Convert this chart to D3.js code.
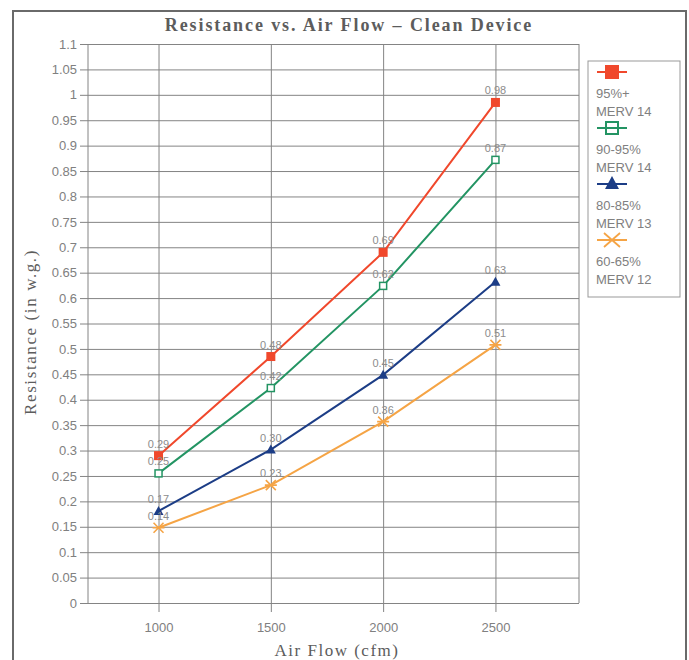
<!DOCTYPE html>
<html>
<head>
<meta charset="utf-8">
<script src="https://cdn.jsdelivr.net/npm/d3@7"></script>
<style>
  body { margin: 0; background: #fff; }
  svg { display: block; }
</style>
</head>
<body>
<svg width="689" height="660"></svg>
<script>
// contenitore svg
const svg = d3.select("svg");
const width = +svg.attr("width");
const height = +svg.attr("height");

// dati
const airFlow = [1000, 1500, 2000, 2500];
const seriesNames = ["95%+", "90-95%", "80-85%", "60-65%"];
const seriesMerv = ["MERV 14", "MERV 14", "MERV 13", "MERV 12"];
const merv14High = [0.29, 0.485, 0.69, 0.985];
const merv14Low = [0.255, 0.423, 0.624, 0.872];
const merv13 = [0.181, 0.302, 0.449, 0.632];
const merv12 = [0.148, 0.232, 0.357, 0.508];
const labels14High = ["0.29", "0.48", "0.69", "0.98"];
const labels14Low = ["0.25", "0.42", "0.62", "0.87"];
const labels13 = ["0.17", "0.30", "0.45", "0.63"];
const labels12 = ["0.14", "0.23", "0.36", "0.51"];
const yTicks = d3.range(0, 23).map(i => +(i * 0.05).toFixed(2));

const seriesValues = [merv14High, merv14Low, merv13, merv12];
const seriesLabels = [labels14High, labels14Low, labels13, labels12];
const colors = ["#f0482c", "#239463", "#1c3d86", "#f5a445"];
const markers = ["square", "openSquare", "triangle", "cross"];

const series = seriesNames.map((name, k) => ({
  name,
  merv: seriesMerv[k],
  color: colors[k],
  marker: markers[k],
  points: airFlow.map((x, i) => ({ x, y: seriesValues[k][i], label: seriesLabels[k][i] }))
}));

// area del grafico
const plot = { left: 88, right: 579, top: 44, bottom: 603 };
const x = d3.scaleLinear().domain([686, 2872]).range([plot.left, plot.right]);
const y = d3.scaleLinear().domain([0, 1.1]).range([plot.bottom, plot.top]);

const gridColor = "#848484";
const textGray = "#808080";

// cornice esterna
svg.append("rect")
  .attr("x", 13).attr("y", 11)
  .attr("width", 673).attr("height", 680)
  .attr("fill", "none")
  .attr("stroke", "#6a6a6a")
  .attr("stroke-width", 2);

// titolo
svg.append("text")
  .attr("x", 349).attr("y", 31)
  .attr("text-anchor", "middle")
  .attr("font-family", "Liberation Serif, serif")
  .attr("font-weight", "bold")
  .attr("font-size", "18px")
  .attr("letter-spacing", "1.9px")
  .attr("fill", "#5c5c5c")
  .text("Resistance vs. Air Flow \u2013 Clean Device");

// griglia orizzontale + asse y
const yAxis = d3.axisLeft(y)
  .tickValues(yTicks)
  .tickSize(plot.right - plot.left + 8)
  .tickPadding(3)
  .tickFormat(d => d3.format("~g")(d));

const yAxisG = svg.append("g")
  .attr("transform", `translate(${plot.right},0)`)
  .call(yAxis);
yAxisG.select(".domain").remove();
yAxisG.selectAll("line").attr("stroke", gridColor).attr("stroke-width", 1);
yAxisG.selectAll("text")
  .attr("font-family", "Liberation Sans, Arial, sans-serif")
  .attr("font-size", "13px")
  .attr("fill", textGray);

// griglia verticale + asse x
const xAxis = d3.axisBottom(x)
  .tickValues(airFlow)
  .tickSize(plot.bottom - plot.top + 9)
  .tickPadding(11)
  .tickFormat(d3.format("d"));

const xAxisG = svg.append("g")
  .attr("transform", `translate(0,${plot.top})`)
  .call(xAxis);
xAxisG.select(".domain").remove();
xAxisG.selectAll("line").attr("stroke", gridColor).attr("stroke-width", 1);
xAxisG.selectAll("text")
  .attr("font-family", "Liberation Sans, Arial, sans-serif")
  .attr("font-size", "13px")
  .attr("fill", textGray);

// bordo area grafico
svg.append("line")
  .attr("x1", plot.left).attr("x2", plot.left)
  .attr("y1", plot.top).attr("y2", plot.bottom)
  .attr("stroke", gridColor);
svg.append("line")
  .attr("x1", plot.right).attr("x2", plot.right)
  .attr("y1", plot.top).attr("y2", plot.bottom)
  .attr("stroke", gridColor);

// etichette assi
svg.append("text")
  .attr("x", 337).attr("y", 656)
  .attr("text-anchor", "middle")
  .attr("font-family", "Liberation Serif, serif")
  .attr("font-size", "17px")
  .attr("letter-spacing", "1.5px")
  .attr("fill", "#5c5c5c")
  .text("Air Flow (cfm)");

svg.append("text")
  .attr("transform", "translate(36,332) rotate(-90)")
  .attr("text-anchor", "middle")
  .attr("font-family", "Liberation Serif, serif")
  .attr("font-size", "17px")
  .attr("letter-spacing", "1.6px")
  .attr("fill", "#5c5c5c")
  .text("Resistance (in w.g.)");

// disegno dei marcatori
function drawMarker(g, type, color) {
  if (type === "square") {
    g.append("rect").attr("x", -4.5).attr("y", -4.5).attr("width", 9).attr("height", 9)
      .attr("fill", color);
  } else if (type === "openSquare") {
    g.append("rect").attr("x", -3.5).attr("y", -3.5).attr("width", 7).attr("height", 7)
      .attr("fill", "#fff").attr("stroke", color).attr("stroke-width", 1.5);
  } else if (type === "triangle") {
    g.append("path").attr("d", "M0,-5L5,4L-5,4Z").attr("fill", color);
  } else {
    g.append("path").attr("d", "M-5,-5L5,5M-5,5L5,-5M-6,0L6,0")
      .attr("stroke", color).attr("stroke-width", 1.6).attr("fill", "none");
  }
}

const line = d3.line().x(d => x(d.x)).y(d => y(d.y));

const seriesG = svg.selectAll(".series")
  .data(series)
  .join("g")
  .attr("class", "series");

seriesG.append("path")
  .attr("d", d => line(d.points))
  .attr("fill", "none")
  .attr("stroke", d => d.color)
  .attr("stroke-width", 2);

seriesG.each(function(s) {
  const g = d3.select(this);
  s.points.forEach(p => {
    const m = g.append("g").attr("transform", `translate(${x(p.x)},${y(p.y)})`);
    drawMarker(m, s.marker, s.color);
  });
  g.selectAll(".val")
    .data(s.points)
    .join("text")
    .attr("class", "val")
    .attr("x", p => x(p.x))
    .attr("y", p => y(p.y) - 8)
    .attr("text-anchor", "middle")
    .attr("font-family", "Liberation Sans Narrow, Liberation Sans, sans-serif")
    .attr("font-size", "11px")
    .attr("fill", "#8c8c8c")
    .text(p => p.label);
});

// legenda
const legend = svg.append("g");
legend.append("rect")
  .attr("x", 588).attr("y", 61)
  .attr("width", 92).attr("height", 236)
  .attr("fill", "#fff")
  .attr("stroke", "#999")
  .attr("stroke-width", 1);

series.forEach((s, k) => {
  const top = 72 + k * 56;
  legend.append("line")
    .attr("x1", 597).attr("x2", 627)
    .attr("y1", top).attr("y2", top)
    .attr("stroke", s.color).attr("stroke-width", 2);
  const m = legend.append("g").attr("transform", `translate(612,${top})`);
  if (s.marker === "square") {
    m.append("rect").attr("x", -7).attr("y", -7).attr("width", 14).attr("height", 14).attr("fill", s.color);
  } else if (s.marker === "openSquare") {
    m.append("rect").attr("x", -6).attr("y", -6).attr("width", 12).attr("height", 12)
      .attr("fill", "#fff").attr("stroke", s.color).attr("stroke-width", 2);
    m.append("line").attr("x1", -6).attr("x2", 6).attr("stroke", s.color).attr("stroke-width", 2);
  } else if (s.marker === "triangle") {
    m.append("path").attr("d", "M0,-8L7,5L-7,5Z").attr("fill", s.color);
  } else {
    m.append("path").attr("d", "M-8,-7L8,7M-8,7L8,-7")
      .attr("stroke", s.color).attr("stroke-width", 1.8).attr("fill", "none");
  }
  legend.append("text")
    .attr("x", 596).attr("y", top + 26)
    .attr("font-family", "Liberation Sans, Arial, sans-serif")
    .attr("font-size", "13px")
    .attr("fill", textGray)
    .text(s.name);
  legend.append("text")
    .attr("x", 596).attr("y", top + 44)
    .attr("font-family", "Liberation Sans, Arial, sans-serif")
    .attr("font-size", "13px")
    .attr("fill", textGray)
    .text(s.merv);
});
</script>
</body>
</html>
